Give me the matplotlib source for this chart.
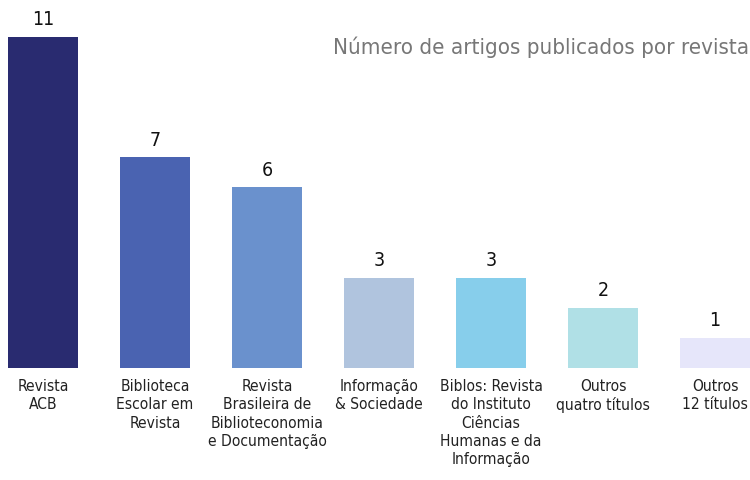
import matplotlib.pyplot as plt

# dados
revistas = ['Revista\nACB', 'Biblioteca\nEscolar em\nRevista',
            'Revista\nBrasileira de\nBiblioteconomia\ne Documentação',
            'Informação\n& Sociedade',
            'Biblos: Revista\ndo Instituto\nCiências\nHumanas e da\nInformação',
            'Outros\nquatro títulos', 'Outros\n12 títulos']
artigos = [11, 7, 6, 3, 3, 2, 1]
cores = ['#292b70', '#4a63b1', '#6a91cd', '#b0c4de', '#87ceeb', '#b0e0e6', '#e6e6fa']

plt.rcParams['font.family'] = ['DejaVu Sans']
plt.rcParams['font.stretch'] = 'condensed'

fig = plt.figure(figsize=(7.5, 4.8), dpi=100)
ax = fig.add_axes([0, 112 / 480, 1, 368 / 480])

x = list(range(len(artigos)))
ax.bar(x, artigos, width=0.625, color=cores)
ax.set_xlim(-0.384, 6.3125)
ax.set_ylim(0, 12.23)

for xi, v in zip(x, artigos):
    ax.text(xi, v + 0.25, str(v), ha='center', va='bottom', fontsize=14, color='#111111')
    ax.text(xi, -0.36, revistas[xi], ha='center', va='top', fontsize=11.2,
            color='#222222', linespacing=1.28)

ax.text(6.3125 - 0.01, 10.65, 'Número de artigos publicados por revista', ha='right',
        va='center', fontsize=16, color='#777777')

ax.axis('off')
fig.savefig('out.png', dpi=100)
